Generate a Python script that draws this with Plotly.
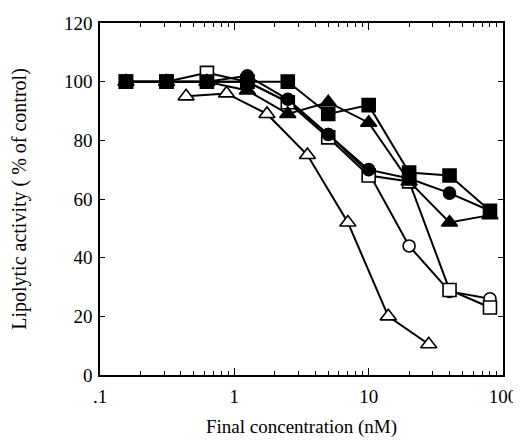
import plotly.graph_objects as go

# Concentrations (nM)
conc = [0.156, 0.3125, 0.625, 1.25, 2.5, 5, 10, 20, 40, 80]
conc_tri_open = [0.4375, 0.875, 1.75, 3.5, 7, 14, 28]

# Lipolytic activity (% of control)
filled_square = [100, 100, 100, 100, 100, 89, 92, 69, 68, 56]
filled_circle = [100, 100, 100, 102, 94, 82, 70, 67, 62, 56]
filled_triangle = [100, 100, 100, 97, 89, 93, 86, 66, 52, 54.5]
open_square = [100, 100, 103, 100, 93, 81, 68, 66, 29, 23]
open_circle = [100, 100, 100, 100, 93, 82, 69, 44, 28.5, 26]
open_triangle = [95, 96, 89, 75, 52, 20, 10.5]

x_tickvals = [0.1, 1, 10, 100]
x_ticktext = [".1", "1", "10", "100"]
y_tickvals = [0, 20, 40, 60, 80, 100, 120]

minor_vals = [m * d for d in (0.1, 1, 10) for m in range(2, 10)]

FONT = "Liberation Serif"

fig = go.Figure()

def add(x, y, symbol, filled, size):
    fig.add_trace(go.Scatter(
        x=x, y=y, mode="lines+markers",
        line=dict(color="black", width=2),
        marker=dict(symbol=symbol, size=size,
                    color="black" if filled else "white",
                    line=dict(color="black", width=1.6)),
        showlegend=False, cliponaxis=False,
    ))

add(conc_tri_open, open_triangle, "triangle-up", False, 14)
add(conc, open_circle, "circle", False, 12)
add(conc, open_square, "square", False, 13)
add(conc, filled_triangle, "triangle-up", True, 14)
add(conc, filled_square, "square", True, 13)
add(conc, filled_circle, "circle", True, 12)

fig.update_layout(
    width=521, height=442,
    margin=dict(l=92, r=26, t=15, b=75),
    plot_bgcolor="white", paper_bgcolor="white",
    font=dict(family=FONT, size=19, color="black"),
    xaxis=dict(
        type="log", range=[-1, 2],
        tickmode="array", tickvals=x_tickvals, ticktext=x_ticktext,
        ticks="inside", ticklen=7, tickwidth=1.2, tickcolor="black",
        minor=dict(tickmode="array", tickvals=minor_vals, ticks="inside",
                   ticklen=4, tickwidth=1, tickcolor="black", showgrid=False),
        showgrid=False, zeroline=False, automargin=False,
        showline=True, linecolor="black", linewidth=1.6, mirror="ticks",
        ticklabelstandoff=3,
        title=dict(text="Final concentration (nM)", standoff=14,
                   font=dict(family=FONT, size=19)),
        tickfont=dict(family=FONT, size=19),
    ),
    yaxis=dict(
        range=[0, 120],
        tickmode="array", tickvals=y_tickvals,
        ticks="inside", ticklen=5, tickwidth=1.2, tickcolor="black",
        showgrid=False, zeroline=False, automargin=False,
        showline=True, linecolor="black", linewidth=1.6, mirror="ticks",
        ticklabelstandoff=2,
        title=dict(text="Lipolytic activity ( % of control)", standoff=44,
                   font=dict(family=FONT, size=20)),
        tickfont=dict(family=FONT, size=19),
    ),
)

fig.write_html("out.html")
